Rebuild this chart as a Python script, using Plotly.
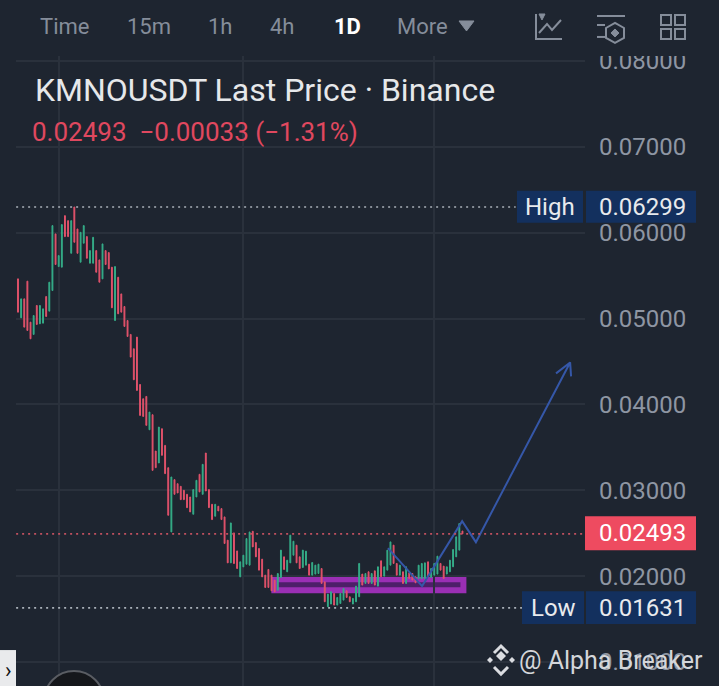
"""KMNOUSDT daily chart, Binance mobile style, rebuilt with Plotly."""
import plotly.graph_objects as go

WIDTH, HEIGHT = 719, 686
TOP_INSET = 8  # plotly keeps this much clear above the paper area
BG = "#1E2530"
GRID = "#2A313C"
MUTED = "#858D9A"
UP = "#35AD88"
DOWN = "#E2526B"

opens = [
    .05462, .05008, .05229, .05435, .04958, .04815, .05152, .04939, .04946, .05256,
    .05086, .05326, .05985, .05605, .05598, .06198, .06140, .05760, .06299, .06043,
    .05656, .05877, .05954, .05644, .05644, .05791, .05683, .05462, .05791, .05768,
    .05598, .04977, .05481, .05287, .05140, .04977, .04815, .04648, .04784, .04232,
    .04066, .04093, .03705, .03880, .03457, .03318, .03717, .03523, .03263, .02515,
    .03124, .03077, .03046, .03000, .02953, .02922, .02721, .02922, .03186, .02953,
    .03434, .03008, .02837, .02698, .02814, .02787, .02690, .02419, .02155, .02504,
    .02294, .01992, .02108, .02139, .02128, .02523, .02391, .02322, .02198, .02012,
    .02078, .02012, .01954, .01837, .01985, .02225, .02051, .02155, .02244, .02361,
    .02225, .02101, .02128, .02140, .02012, .02024, .02031, .02089, .01934, .01644,
    .01675, .01799, .01663, .01682, .01721, .01830, .01760, .01675, .01702, .01760,
    .02024, .01915, .02051, .01915, .02062, .01884, .02179, .02000, .02070, .02128,
    .02361, .02148, .02012, .02051, .01915, .02039, .02031, .01993, .01973, .01973,
    .01973, .02167, .01985, .02012, .02024, .02148, .02117, .02024, .02051, .02109,
    .02225, .02303, .02526,
]
closes = [
    .05074, .05229, .04900, .04861, .04764, .05035, .04931, .05152, .05113, .05024,
    .05423, .06082, .05629, .05733, .06094, .05954, .05954, .06140, .05888, .05760,
    .06004, .06082, .05702, .05791, .05946, .05539, .05423, .05869, .05629, .05578,
    .05125, .05605, .05055, .05074, .04908, .04791, .04551, .04287, .04163, .03872,
    .03860, .03756, .03911, .03232, .03263, .03736, .03407, .03194, .02709, .03155,
    .02953, .02969, .02891, .02891, .02798, .02748, .03008, .03116, .02981, .03302,
    .02992, .02798, .02659, .02837, .02760, .02659, .02380, .02155, .02620, .02147,
    .02089, .02167, .02244, .02438, .02515, .02341, .02225, .02070, .01992, .01868,
    .01868, .01830, .01818, .02031, .02303, .02078, .02186, .02477, .02407, .02155,
    .02089, .02303, .02291, .02012, .02159, .02128, .02140, .01915, .01702, .01791,
    .01818, .01663, .01752, .01799, .01857, .01752, .01702, .01741, .01884, .02148,
    .01896, .02031, .01915, .02031, .01896, .02109, .01993, .02109, .02303, .02399,
    .02148, .02012, .02128, .01915, .02109, .01973, .01954, .01923, .02128, .02148,
    .02155, .01985, .02089, .02148, .02233, .02070, .01973, .02109, .02186, .02310,
    .02458, .02613, .02493,
]
price_ticks = [0.01, 0.02, 0.03, 0.04, 0.05, 0.06, 0.07, 0.08]
time_ticks = [13, 72, 133]
high_price = 0.06299
low_price = 0.01631
last_price = 0.02493
# hand drawn arrow, candle index / price
arrow_x = [118.2, 129.1, 141.9, 146.3, 176.4, 171.9, 176.4, 176.7]
arrow_y = [0.02326, 0.01884, 0.02640, 0.02396, 0.04489, 0.04361, 0.04489, 0.04326]
# drawn zone on the chart
zone_low, zone_high = 0.01837, 0.01965
zone_left, zone_right = 81.9, 142.3

menu_labels = ["Time", "15m", "1h", "4h", "<b>1D</b>", "More"]
menu_x = [38, 125, 206, 268, 332, 395]


def fx(px):
    return px / WIDTH


def fy(py):
    return (HEIGHT - py) / (HEIGHT - TOP_INSET)


def pixel_path(points, close=False):
    path = "M" + " L".join(f"{fx(x):.5f},{fy(y):.5f}" for x, y in points)
    return path + (" Z" if close else "")


def paper_rect(x0, y0, x1, y1, color, layer="above"):
    return dict(type="rect", xref="paper", yref="paper", x0=fx(x0), x1=fx(x1),
                y0=fy(y1), y1=fy(y0), fillcolor=color, line_width=0, layer=layer)


def paper_line(points, color=MUTED, width=2, close=False, fill=None):
    return dict(type="path", xref="paper", yref="paper", path=pixel_path(points, close),
                line=dict(color=color, width=width), fillcolor=fill, layer="above")


def label(text, x, y, size, color, anchor="left", family="Roboto"):
    return dict(text=text, x=fx(x), y=fy(y), xref="paper", yref="paper", showarrow=False,
                xanchor=anchor, yanchor="middle", font=dict(family=family, size=size, color=color))


def price_line(price, x1, color):
    return dict(type="line", xref="x", yref="y", x0=-0.6, x1=x1, y0=price, y1=price,
                line=dict(color=color, width=1.6, dash="2px,4px"), layer="above")


fig = go.Figure()
fig.add_trace(go.Candlestick(
    x=list(range(len(opens))),
    open=opens,
    close=closes,
    high=[max(o, c) for o, c in zip(opens, closes)],
    low=[min(o, c) for o, c in zip(opens, closes)],
    increasing=dict(line=dict(color=UP, width=1), fillcolor=UP),
    decreasing=dict(line=dict(color=DOWN, width=1), fillcolor=DOWN),
    hoverinfo="skip",
    showlegend=False,
))
fig.add_trace(go.Scatter(
    x=arrow_x, y=arrow_y, mode="lines",
    line=dict(color="#3557A8", width=2),
    hoverinfo="skip", showlegend=False,
))

shapes = [
    # purple zone
    dict(type="rect", xref="x", yref="y", x0=zone_left, x1=zone_right, y0=zone_low, y1=zone_high,
         line=dict(color="#9A2FB4", width=6), fillcolor="#4D1F68", layer="below"),
    price_line(high_price, 159, "#A9B0B8"),
    price_line(low_price, 161, "#A9B0B8"),
    price_line(last_price, 181, "#C0505F"),
    # toolbar covers the top of the 0.08000 label
    paper_rect(0, 0, WIDTH, 55, BG),
    # price tags
    paper_rect(517, 190, 583, 222, "#13305E"),
    paper_rect(586, 190, 696, 222, "#13305E"),
    paper_rect(522, 591, 584, 624, "#13305E"),
    paper_rect(586, 591, 696, 624, "#13305E"),
    paper_rect(585, 516, 696, 550, "#EE4B60"),
    # side tab and round button at the bottom
    paper_rect(0, 650, 16, 686, "#E9EAEC"),
    dict(type="circle", xref="paper", yref="paper", x0=fx(44), x1=fx(104), y0=fy(731), y1=fy(671),
         fillcolor="#15171B", line=dict(color="#5A5D63", width=2), layer="above"),
    # menu triangle
    paper_line([(459, 20), (474, 20), (466.5, 30)], MUTED, 1, True, MUTED),
    # chart icon
    paper_line([(536, 13), (536, 38), (562, 38)]),
    paper_line([(539, 32), (547, 23), (552, 29), (561, 19)]),
    paper_line([(539, 13), (545, 13), (542, 19)], MUTED, 1, True, MUTED),
    # settings icon
    paper_line([(597, 15), (625, 15)]),
    paper_line([(597, 24), (605, 24)]),
    paper_line([(597, 36), (605, 36)]),
    paper_line([(615, 22), (624, 27), (624, 37), (615, 42), (606, 37), (606, 27)], MUTED, 2, True),
    paper_line([(615, 28), (619, 32), (615, 36), (611, 32)], MUTED, 1, True, MUTED),
    # layout icon
    *[dict(type="rect", xref="paper", yref="paper", x0=fx(x), x1=fx(x + 10), y0=fy(y + 10), y1=fy(y),
           line=dict(color=MUTED, width=2), layer="above")
      for x in (661, 675) for y in (14, 28)],
    # watermark logo
    paper_line([(501, 651), (506, 656), (501, 661), (496, 656)], "#DADCE0", 0, True, "#DADCE0"),
    paper_line([(494, 653), (501, 646), (508, 653)], "#DADCE0", 3),
    paper_line([(494, 667), (501, 674), (508, 667)], "#DADCE0", 3),
    paper_line([(487, 660), (490, 657), (493, 660), (490, 663)], "#DADCE0", 0, True, "#DADCE0"),
    paper_line([(509, 660), (512, 657), (515, 660), (512, 663)], "#DADCE0", 0, True, "#DADCE0"),
]

annotations = [
    label(text, x, 26, 22, "#FFFFFF" if "1D" in text else MUTED)
    for text, x in zip(menu_labels, menu_x)
]
annotations += [
    label("KMNOUSDT Last Price · Binance", 33, 89, 32, "#E6E8EA"),
    label("0.02493  −0.00033 (−1.31%)", 30, 131, 26, "#E0485F"),
    label("High", 550, 206, 24, "#E8EAED", "center"),
    label(f"{high_price:.5f}", 642, 206, 24, "#E8EAED", "center"),
    label("Low", 553, 608, 24, "#E8EAED", "center"),
    label(f"{low_price:.5f}", 642, 608, 24, "#E8EAED", "center"),
    label(f"{last_price:.5f}", 642, 533, 24, "#FFFFFF", "center"),
    label("@ Alpha Breaker", 517, 660, 25, "#D4D6DA"),
    label("›", 8, 670, 22, "#111111", "center"),
]

fig.update_layout(
    width=WIDTH,
    height=HEIGHT,
    autosize=False,
    margin=dict(l=0, r=0, t=0, b=0, pad=0),
    paper_bgcolor=BG,
    plot_bgcolor=BG,
    showlegend=False,
    boxgap=0.6,
    shapes=shapes,
    annotations=annotations,
    xaxis=dict(
        domain=[fx(16), fx(585)], range=[-0.64, 181.15], rangeslider=dict(visible=False),
        tickvals=time_ticks, showticklabels=False, ticks="",
        showgrid=True, gridcolor=GRID, gridwidth=1.5, zeroline=False, showline=False,
    ),
    yaxis=dict(
        domain=[0, fy(55)], range=[0.00721, 0.08058], side="right",
        tickvals=price_ticks, tickformat=".5f", ticks="", ticklabelstandoff=13,
        tickfont=dict(family="Roboto", size=24, color="#8E96A3"),
        showgrid=True, gridcolor=GRID, gridwidth=1.5, zeroline=False, showline=False,
    ),
)

# page margin off, so the figure sits at the corner of the window
fig.write_html("out.html", config=dict(displayModeBar=False),
               post_script="document.body.style.margin = '0';")
